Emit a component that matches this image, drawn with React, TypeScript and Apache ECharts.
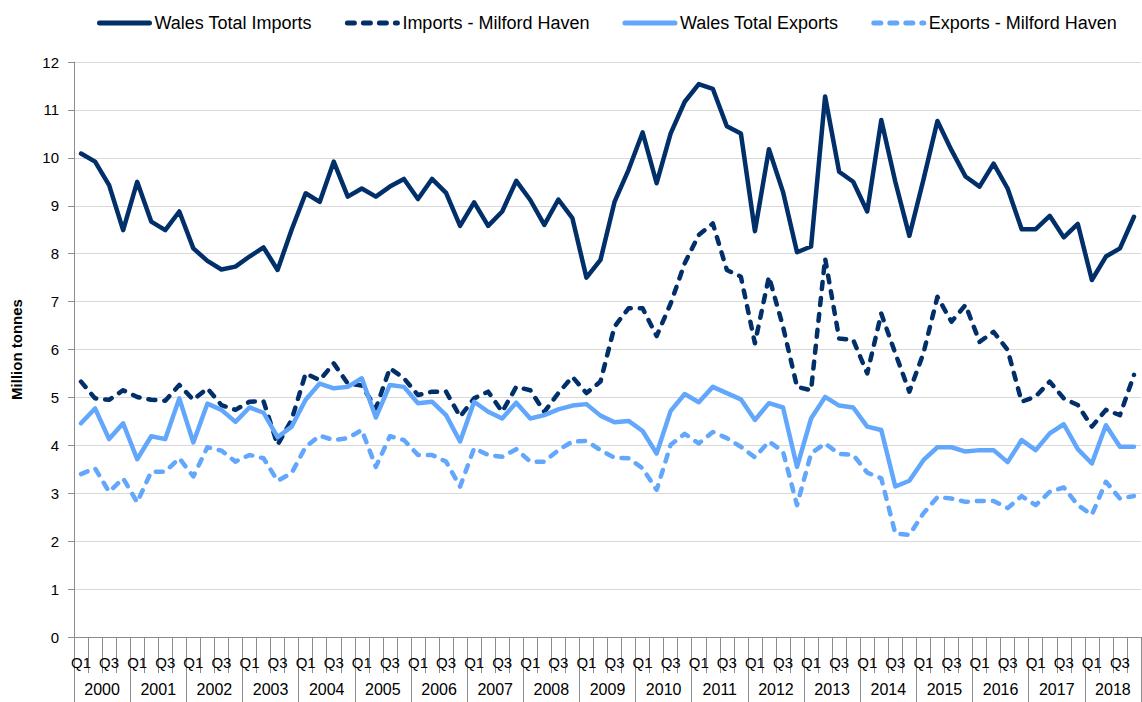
import React, { useEffect, useRef } from 'react';
import * as echarts from 'echarts';

const years = ['2000', '2001', '2002', '2003', '2004', '2005', '2006', '2007', '2008', '2009', '2010', '2011', '2012', '2013', '2014', '2015', '2016', '2017', '2018'];
const quarterNames = ['Q1', 'Q2', 'Q3', 'Q4'];
const quarterLabelsShown = ['Q1', 'Q3'];

const walesImports = [
  10.09, 9.92, 9.43, 8.49, 9.5, 8.67, 8.49, 8.88, 8.11, 7.85, 7.67, 7.73, 7.94, 8.13, 7.66, 8.5,
  9.26, 9.08, 9.92, 9.19, 9.36, 9.19, 9.4, 9.56, 9.14, 9.56, 9.27, 8.58, 9.07, 8.58, 8.88, 9.52,
  9.12, 8.6, 9.13, 8.74, 7.5, 7.87, 9.08, 9.75, 10.53, 9.47, 10.51, 11.17, 11.54, 11.44, 10.66, 10.51,
  8.47, 10.18, 9.29, 8.03, 8.15, 11.28, 9.71, 9.5, 8.88, 10.79, 9.5, 8.37, 9.54, 10.77, 10.16, 9.61,
  9.4, 9.88, 9.36, 8.51, 8.51, 8.79, 8.34, 8.62, 7.45, 7.94, 8.11, 8.77,
];
const milfordImports = [
  5.33, 4.98, 4.95, 5.15, 5.01, 4.95, 4.93, 5.26, 4.95, 5.19, 4.84, 4.74, 4.91, 4.92, 4.01, 4.53,
  5.5, 5.36, 5.71, 5.29, 5.25, 4.77, 5.61, 5.4, 5.05, 5.12, 5.12, 4.6, 4.98, 5.12, 4.7, 5.22,
  5.15, 4.7, 5.09, 5.43, 5.09, 5.33, 6.48, 6.86, 6.86, 6.28, 6.96, 7.8, 8.39, 8.63, 7.66, 7.52,
  6.13, 7.52, 6.48, 5.22, 5.15, 7.9, 6.23, 6.2, 5.5, 6.75, 5.92, 5.12, 5.92, 7.1, 6.58, 6.93,
  6.16, 6.37, 5.99, 4.91, 5.02, 5.33, 4.98, 4.84, 4.39, 4.74, 4.63, 5.47,
];
const walesExports = [
  4.46, 4.77, 4.13, 4.46, 3.71, 4.19, 4.13, 4.98, 4.06, 4.87, 4.74, 4.49, 4.79, 4.68, 4.17, 4.39,
  4.95, 5.29, 5.19, 5.22, 5.4, 4.58, 5.26, 5.22, 4.88, 4.91, 4.63, 4.08, 4.91, 4.7, 4.56, 4.89,
  4.56, 4.63, 4.75, 4.83, 4.86, 4.62, 4.48, 4.51, 4.3, 3.83, 4.72, 5.07, 4.9, 5.22, 5.09, 4.96,
  4.53, 4.88, 4.79, 3.55, 4.56, 5.01, 4.83, 4.79, 4.39, 4.32, 3.14, 3.26, 3.69, 3.96, 3.96, 3.87,
  3.9, 3.9, 3.65, 4.11, 3.9, 4.25, 4.44, 3.92, 3.62, 4.42, 3.97, 3.97,
];
const milfordExports = [
  3.4, 3.52, 3.03, 3.31, 2.81, 3.45, 3.45, 3.73, 3.35, 3.96, 3.89, 3.66, 3.8, 3.73, 3.26, 3.42,
  3.97, 4.2, 4.11, 4.15, 4.32, 3.55, 4.19, 4.11, 3.8, 3.8, 3.66, 3.14, 3.94, 3.8, 3.76, 3.92,
  3.66, 3.66, 3.9, 4.08, 4.09, 3.9, 3.74, 3.73, 3.52, 3.07, 4.01, 4.24, 4.04, 4.28, 4.15, 3.97,
  3.75, 4.08, 3.87, 2.75, 3.83, 4.04, 3.82, 3.8, 3.43, 3.31, 2.16, 2.13, 2.58, 2.92, 2.89, 2.82,
  2.84, 2.84, 2.69, 2.94, 2.75, 3.03, 3.12, 2.75, 2.55, 3.24, 2.89, 2.94,
];

const seriesNames = ['Wales Total Imports', 'Imports - Milford Haven', 'Wales Total Exports', 'Exports - Milford Haven'];

const NAVY = '#002f69';
const LIGHT = '#62a7fb';
const AXIS_GRAY = '#8c8c8c';
const FONT = '"Liberation Sans", Arial, sans-serif';

export default function App() {
  const ref = useRef<HTMLDivElement>(null);

  useEffect(() => {
    if (!ref.current) return;
    const chart = echarts.init(ref.current, undefined, { renderer: 'svg' });
    const categories: string[] = [];
    years.forEach((y) => quarterNames.forEach((q) => categories.push(y + ' ' + q)));

    const dash = [7, 9];
    const mk = (name: string, data: number[], color: string, dashed: boolean) => ({
      name,
      type: 'line',
      data,
      symbol: 'none',
      smooth: false,
      xAxisIndex: 0,
      lineStyle: {
        color,
        width: 4.5,
        type: dashed ? dash : 'solid',
        cap: 'round',
        join: 'round',
      },
      itemStyle: { color },
    });

    chart.setOption({
      animation: false,
      textStyle: { fontFamily: FONT },
      legend: {
        data: seriesNames,
        top: 9,
        left: 92,
        itemWidth: 50,
        itemHeight: 14,
        itemGap: 33,
        textStyle: { fontSize: 18, color: '#000', fontFamily: FONT },
        lineStyle: { width: 5 },
        itemStyle: { opacity: 0 },
      },
      grid: { left: 74, right: 1, top: 62, bottom: 65, containLabel: false },
      xAxis: [
        {
          type: 'category',
          data: categories,
          boundaryGap: true,
          position: 'bottom',
          axisLine: { show: true, lineStyle: { color: AXIS_GRAY, width: 1 } },
          axisTick: { show: true, interval: 0, length: 36, lineStyle: { color: AXIS_GRAY } },
          axisLabel: {
            interval: 0,
            margin: 18,
            fontSize: 15,
            color: '#000',
            fontFamily: FONT,
            formatter: (v: string) => {
              const q = v.split(' ')[1];
              return quarterLabelsShown.indexOf(q) >= 0 ? q : '';
            },
          },
          splitLine: { show: false },
        },
        {
          type: 'category',
          data: years,
          boundaryGap: true,
          position: 'bottom',
          gridIndex: 0,
          axisLine: { show: false },
          axisTick: { show: true, interval: 0, length: 70, lineStyle: { color: AXIS_GRAY } },
          axisLabel: { interval: 0, margin: 44, fontSize: 16, color: '#000', fontFamily: FONT },
          splitLine: { show: false },
        },
      ],
      yAxis: {
        type: 'value',
        min: 0,
        max: 12,
        interval: 1,
        name: 'Million tonnes',
        nameLocation: 'middle',
        nameGap: 50,
        nameTextStyle: { fontSize: 15, fontWeight: 'bold', color: '#000', fontFamily: FONT },
        axisLine: { show: true, lineStyle: { color: AXIS_GRAY, width: 1 } },
        axisTick: { show: true, length: 6, lineStyle: { color: AXIS_GRAY } },
        axisLabel: { margin: 15, fontSize: 15, color: '#000', fontFamily: FONT },
        splitLine: { show: true, lineStyle: { color: '#d9d9d9', width: 1 } },
      },
      series: [
        mk(seriesNames[0], walesImports, NAVY, false),
        mk(seriesNames[1], milfordImports, NAVY, true),
        mk(seriesNames[2], walesExports, LIGHT, false),
        mk(seriesNames[3], milfordExports, LIGHT, true),
      ],
    });
    return () => chart.dispose();
  }, []);

  return (
    <div
      ref={ref}
      style={{ position: 'absolute', left: 0, top: 0, width: 1142, height: 702, background: '#fff' }}
    />
  );
}
